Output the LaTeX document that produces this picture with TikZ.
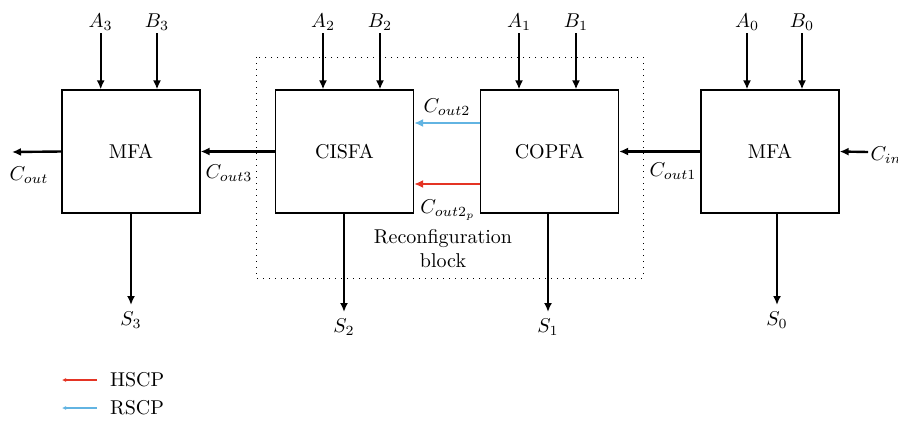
\documentclass[tikz,border=0pt]{standalone}
\usepackage{amsmath}
\usetikzlibrary{arrows.meta}
\definecolor{hscpred}{RGB}{228,52,36}
\definecolor{rscpblue}{RGB}{98,180,226}

\begin{document}
\begin{tikzpicture}[>={Latex[length=4.5pt,width=4pt]},x=0.5pt,y=-0.5pt,
  adder/.style={draw,line width=0.6pt,minimum width=69pt,minimum height=61.5pt,inner sep=0pt},
  sig/.style={->,line width=1.2pt},
  keyline/.style={->,>={Latex[length=2pt,width=2pt]}}]
  \useasboundingbox (0,0) rectangle (898,424);
  \draw[line width=0.5pt,dash pattern=on 0.5pt off 2.5pt] (256,57) rectangle (643,278);
  \node[adder] (mfa3) at (131,151.5) {MFA};
  \node[adder] (cisfa) at (344.5,151.5) {CISFA};
  \node[adder] (copfa) at (549.5,151.5) {COPFA};
  \node[adder] (mfa0) at (770,151.5) {MFA};
  \foreach \x/\lab/\nm [count=\i] in {100.7/A_3/mfa3,157/B_3/mfa3,323/A_2/cisfa,380/B_2/cisfa,
      519/A_1/copfa,576/B_1/copfa,747/A_0/mfa0,802/B_0/mfa0} {
    \node[anchor=south,inner sep=1pt] (in\i) at (\x,33) {$\lab$};
    \draw[sig] (in\i.south) -- (in\i.south |- \nm.north);
  }
  \foreach \x/\lab/\nm/\y [count=\i] in {131/S_3/mfa3/305,344/S_2/cisfa/312,548/S_1/copfa/312,777/S_0/mfa0/305} {
    \coordinate (out\i) at (\x,\y);
    \draw[sig] (out\i |- \nm.south) -- (out\i);
    \node[below] (s\i) at (out\i) {$\lab$};
  }
  \coordinate (cout) at (12,152);
  \draw[sig] (mfa3.west) -- (cout);
  \node (coutlab) at (29,175) {$C_{out}$};
  \draw[sig] (cisfa.west) -- (mfa3.east);
  \node (cout3) at (229,173) {$C_{out3}$};
  \draw[sig] (mfa0.west) -- (copfa.east);
  \node (cout1) at (673,171) {$C_{out1}$};
  \coordinate (cin) at (868,152);
  \draw[sig] (cin) -- (mfa0.east);
  \node (cinlab) at (886,155) {$C_{in}$};
  \draw[sig,rscpblue] ([yshift=14.25pt]copfa.west) -- ([yshift=14.25pt]cisfa.east);
  \node (cout2) at (447,107) {$C_{out2}$};
  \draw[sig,hscpred] ([yshift=-16.25pt]copfa.west) -- ([yshift=-16.25pt]cisfa.east);
  \node (cout2p) at (448,210) {$C_{out2_p}$};
  \node[align=center] (recon) at (443,249) {Reconfiguration\\block};
  % legend
  \coordinate (h1) at (97,380);
  \coordinate (h0) at (62,380);
  \draw[keyline,hscpred,line width=0.6pt] (h1) -- (h0);
  \node[right] (hscp) at (103,380) {HSCP};
  \coordinate (r1) at (97,408);
  \coordinate (r0) at (62,408);
  \draw[keyline,rscpblue,line width=1pt] (r1) -- (r0);
  \node[right] (rscp) at (103,408) {RSCP};
\end{tikzpicture}
\end{document}
